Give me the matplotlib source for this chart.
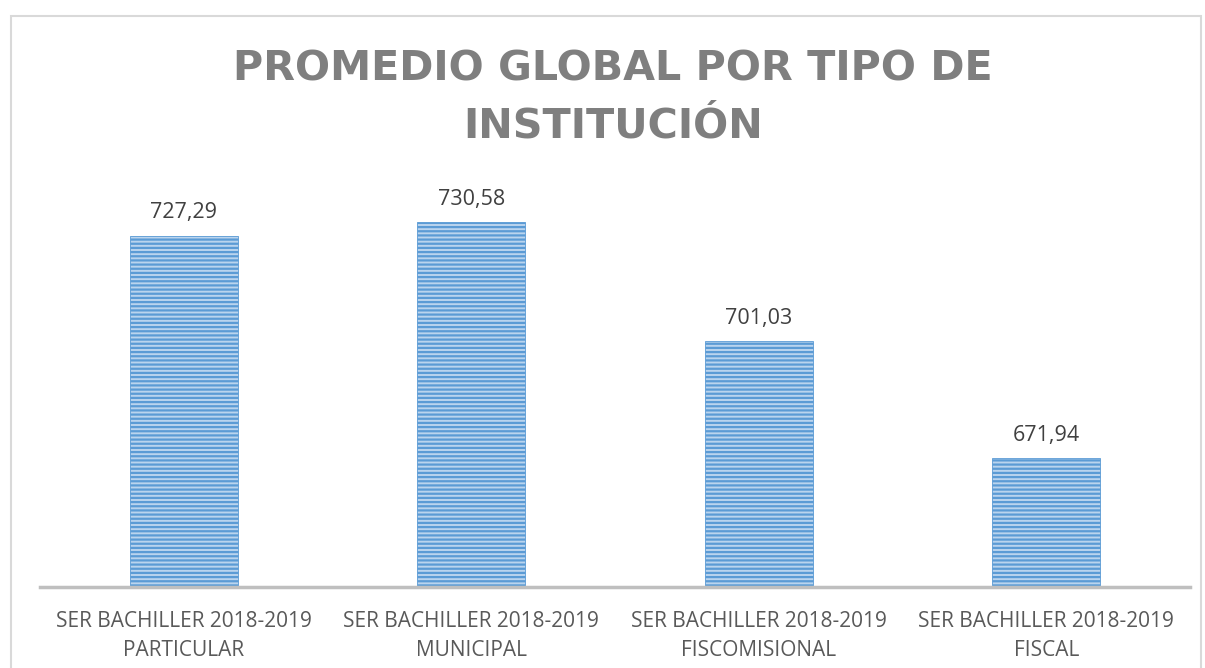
import matplotlib
matplotlib.use("Agg")
import matplotlib.pyplot as plt
from matplotlib.patches import Rectangle

categories = ["SER BACHILLER 2018-2019\nPARTICULAR",
              "SER BACHILLER 2018-2019\nMUNICIPAL",
              "SER BACHILLER 2018-2019\nFISCOMISIONAL",
              "SER BACHILLER 2018-2019\nFISCAL"]
values = [727.29, 730.58, 701.03, 671.94]
value_labels = ["727,29", "730,58", "701,03", "671,94"]
title = "PROMEDIO GLOBAL POR TIPO DE\nINSTITUCIÓN"

plt.rcParams['font.family'] = ['Open Sans', 'DejaVu Sans']
plt.rcParams['hatch.linewidth'] = 1.6

W, H = 1205, 668
fig = plt.figure(figsize=(W / 100, H / 100), dpi=100)

# chart border
fig.patches.append(Rectangle((11 / W, -0.05), (1201 - 11) / W, (H - 16) / H + 0.05,
                             transform=fig.transFigure, fill=False,
                             edgecolor='#D9D9D9', linewidth=1.5))

ax = fig.add_axes([40 / W, (H - 587) / H, 1150 / W, (587 - 184.5) / H])
x = list(range(len(values)))
ax.bar(x, [v - 640 for v in values], bottom=640, width=0.376,
       facecolor='#BAD4EE', edgecolor='#5B9BD5', linewidth=0.6, hatch='----')
ax.set_xlim(-0.5, len(values) - 0.5)
ax.set_ylim(640, 740)

for xi, v, lab in zip(x, values, value_labels):
    ax.annotate(lab, (xi, v), xytext=(0, 9), textcoords='offset points',
                ha='center', va='bottom', fontsize=15.5, color='#404040')

for s in ['top', 'right', 'left']:
    ax.spines[s].set_visible(False)
ax.spines['bottom'].set_color('#BFBFBF')
ax.spines['bottom'].set_linewidth(2.5)
ax.set_yticks([])
ax.set_xticks(x)
ax.set_xticklabels(categories, fontsize=15, color='#595959', linespacing=1.5)
ax.tick_params(axis='x', length=0, pad=17)

fig.text(613 / W, 1 - 98 / H, title, ha='center', va='center', fontsize=29.7,
         fontweight='bold', color='#7F7F7F', linespacing=1.55,
         family=['DejaVu Sans'])

fig.savefig("out.png", dpi=100)
